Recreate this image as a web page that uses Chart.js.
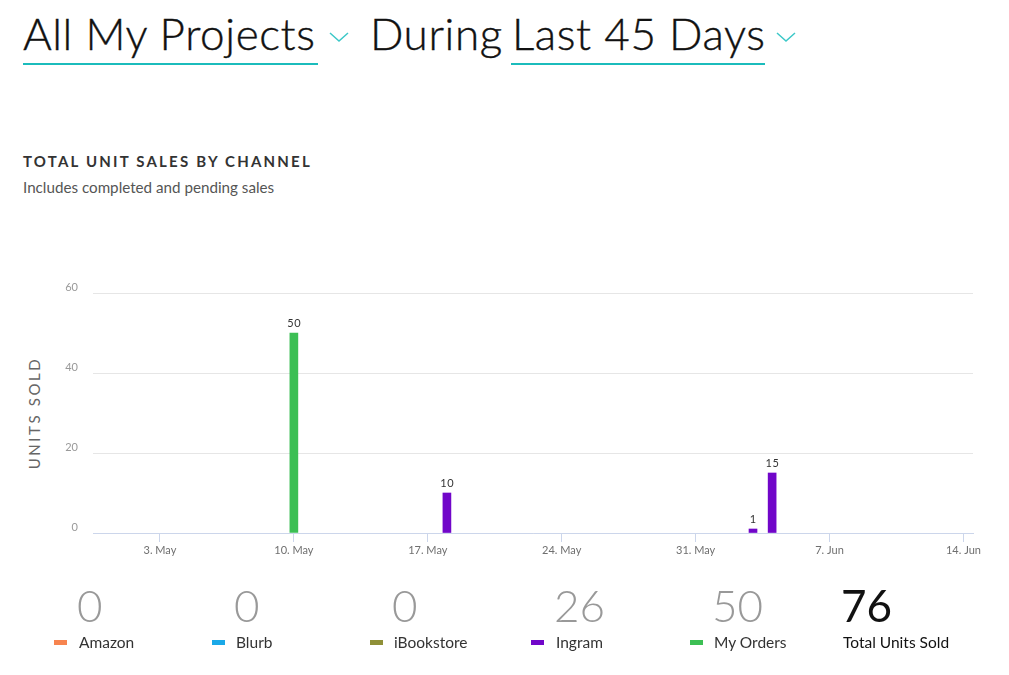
<!DOCTYPE html>
<html>
<head>
<meta charset="utf-8">
<script src="https://cdn.jsdelivr.net/npm/chart.js@4.4.1/dist/chart.umd.min.js"></script>
<style>
  html, body { margin: 0; padding: 0; background: #fff; }
  body { width: 1009px; height: 675px; position: relative; overflow: hidden; font-family: 'Lato', sans-serif; }
  .abs { position: absolute; white-space: nowrap; }
  .hdr { font-size: 44px; line-height: 44px; color: #111; font-weight: 300; letter-spacing: 0.6px; -webkit-text-stroke: 0.4px #111; }
  .uline { position: absolute; height: 2px; background: #1bbcbc; }
  .chev { position: absolute; }
  #title { left: 23px; top: 154px; font-size: 15px; line-height: 15px; font-weight: 700; letter-spacing: 2.2px; color: #333; }
  #subtitle { left: 23px; top: 180px; font-size: 15.2px; line-height: 15px; color: #555; }
  #ytitle { left: 34px; top: 413px; font-size: 15px; letter-spacing: 2.6px; color: #666; transform: translate(-50%, -50%) rotate(-90deg); line-height: 15px; }
  #chartWrap { position: absolute; left: 0; top: 250px; width: 1009px; height: 330px; }
  .num { position: absolute; top: 583px; font-size: 44px; line-height: 44px; font-weight: 300; color: #999; }
  .lab { position: absolute; top: 635px; font-size: 15.5px; line-height: 15px; color: #333; }
  .mark { position: absolute; top: 640px; width: 13px; height: 5px; }
</style>
</head>
<body>
  <div class="abs hdr" style="left:23px; top:11px;">All My Projects</div>
  <div class="uline" style="left:23px; top:63px; width:295px;"></div>
  <svg class="chev" style="left:328px; top:30px;" width="22" height="14"><polyline points="2,3 11,11 20,3" fill="none" stroke="#3cc8c8" stroke-width="1.5"/></svg>
  <div class="abs hdr" style="left:370px; top:11px;">During</div>
  <div class="abs hdr" style="left:512px; top:11px;">Last 45 Days</div>
  <div class="uline" style="left:511px; top:63px; width:254px;"></div>
  <svg class="chev" style="left:775px; top:30px;" width="22" height="14"><polyline points="2,3 11,11 20,3" fill="none" stroke="#3cc8c8" stroke-width="1.5"/></svg>

  <div id="title" class="abs">TOTAL UNIT SALES BY CHANNEL</div>
  <div id="subtitle" class="abs">Includes completed and pending sales</div>
  <div id="ytitle" class="abs">UNITS SOLD</div>

  <div id="chartWrap"><canvas id="c"></canvas></div>

  <div id="stats"></div>

<script>
// ---- Data ----
const categories = [
  "30. Apr",
  "1. May","2. May","3. May","4. May","5. May","6. May","7. May","8. May","9. May","10. May",
  "11. May","12. May","13. May","14. May","15. May","16. May","17. May","18. May","19. May","20. May",
  "21. May","22. May","23. May","24. May","25. May","26. May","27. May","28. May","29. May","30. May","31. May",
  "1. Jun","2. Jun","3. Jun","4. Jun","5. Jun","6. Jun","7. Jun","8. Jun","9. Jun","10. Jun",
  "11. Jun","12. Jun","13. Jun","14. Jun"
];
const tickLabels = ["3. May","10. May","17. May","24. May","31. May","7. Jun","14. Jun"];
const yTicks = [0, 20, 40, 60];

const seriesNames = ["Amazon", "Blurb", "iBookstore", "Ingram", "My Orders"];
const seriesColors = ["#f7844f", "#1aa9e8", "#8f9038", "#7106c9", "#3cbf54"];

const amazon = [
  0,0,0,0,0,0,0,0,0,0,
  0,0,0,0,0,0,0,0,0,0,
  0,0,0,0,0,0,0,0,0,0,
  0,0,0,0,0,0,0,0,0,0,
  0,0,0,0,0,0
];
const blurb = [
  0,0,0,0,0,0,0,0,0,0,
  0,0,0,0,0,0,0,0,0,0,
  0,0,0,0,0,0,0,0,0,0,
  0,0,0,0,0,0,0,0,0,0,
  0,0,0,0,0,0
];
const ibookstore = [
  0,0,0,0,0,0,0,0,0,0,
  0,0,0,0,0,0,0,0,0,0,
  0,0,0,0,0,0,0,0,0,0,
  0,0,0,0,0,0,0,0,0,0,
  0,0,0,0,0,0
];
const ingram = [
  0,0,0,0,0,0,0,0,0,0,
  0,0,0,0,0,0,0,0,10,0,
  0,0,0,0,0,0,0,0,0,0,
  0,0,0,0,1,15,0,0,0,0,
  0,0,0,0,0,0
];
const myOrders = [
  0,0,0,0,0,0,0,0,0,0,
  50,0,0,0,0,0,0,0,0,0,
  0,0,0,0,0,0,0,0,0,0,
  0,0,0,0,0,0,0,0,0,0,
  0,0,0,0,0,0
];
const seriesData = [amazon, blurb, ibookstore, ingram, myOrders];

// ---- Stats row (HTML) ----
const statPos = [
  { mark: 54, text: 79 },
  { mark: 212, text: 236 },
  { mark: 370, text: 394 },
  { mark: 531, text: 556 },
  { mark: 690, text: 714 }
];
const stats = document.getElementById('stats');
let total = 0;
seriesNames.forEach((name, i) => {
  const sum = seriesData[i].reduce((a, b) => a + b, 0);
  total += sum;
  const p = statPos[i];
  stats.insertAdjacentHTML('beforeend',
    `<div class="num" style="left:${p.text - 2}px">${sum}</div>` +
    `<div class="mark" style="left:${p.mark}px;background:${seriesColors[i]}"></div>` +
    `<div class="lab" style="left:${p.text}px">${name}</div>`);
});
stats.insertAdjacentHTML('beforeend',
  `<div class="num" style="left:841px;color:#111;font-weight:400">${total}</div>` +
  `<div class="lab" style="left:843px;color:#111">Total Units Sold</div>`);

// ---- Chart ----
const valueLabels = {
  id: 'valueLabels',
  afterDatasetsDraw(chart) {
    const ctx = chart.ctx;
    ctx.save();
    ctx.font = '11px Lato, sans-serif';
    ctx.fillStyle = '#333';
    ctx.textAlign = 'center';
    ctx.textBaseline = 'bottom';
    chart.data.datasets.forEach((ds, di) => {
      const meta = chart.getDatasetMeta(di);
      meta.data.forEach((el, j) => {
        const v = ds.data[j];
        if (v > 0) {
          ctx.fillText(String(v).split('').join('\u200A'), el.x, el.y - 4);
        }
      });
    });
    ctx.restore();
  }
};

new Chart(document.getElementById('c'), {
  type: 'bar',
  data: {
    labels: categories,
    datasets: seriesNames.map((name, i) => ({
      label: name,
      data: seriesData[i],
      backgroundColor: (ctx) => (ctx.raw > 0 ? seriesColors[i] : 'rgba(0,0,0,0)'),
      borderWidth: 0,
      borderSkipped: 'start',
      barThickness: 8
    }))
  },
  options: {
    responsive: true,
    maintainAspectRatio: false,
    animation: false,
    layout: { padding: { top: 43, right: 36, left: 0, bottom: 0 } },
    plugins: { legend: { display: false }, tooltip: { enabled: false }, title: { display: false } },
    scales: {
      x: {
        stacked: true,
        offset: true,
        afterFit: (s) => { s.height = 47; },
        border: { display: true, color: '#ccd6eb', width: 1 },
        grid: {
          offset: false,
          drawOnChartArea: false,
          drawTicks: true,
          tickLength: 9,
          color: (ctx) => (ctx.tick && tickLabels.includes(categories[ctx.index])) ? '#ccd6eb' : 'rgba(0,0,0,0)'
        },
        ticks: {
          autoSkip: false,
          maxRotation: 0,
          minRotation: 0,
          padding: 2,
          color: '#6f6f6f',
          font: { family: 'Lato, sans-serif', size: 11 },
          callback: function (value, index) {
            const l = categories[index];
            return tickLabels.includes(l) ? l : '';
          }
        }
      },
      y: {
        stacked: true,
        min: yTicks[0],
        max: yTicks[yTicks.length - 1],
        afterFit: (s) => { s.width = 93; },
        afterBuildTicks: (s) => { s.ticks = yTicks.map(v => ({ value: v })); },
        border: { display: false },
        grid: { color: '#e6e6e6', drawTicks: false, lineWidth: 1 },
        ticks: {
          padding: 15,
          labelOffset: -6,
          color: '#999',
          font: { family: 'Lato, sans-serif', size: 11 }
        }
      }
    }
  },
  plugins: [valueLabels]
});
</script>
</body>
</html>
